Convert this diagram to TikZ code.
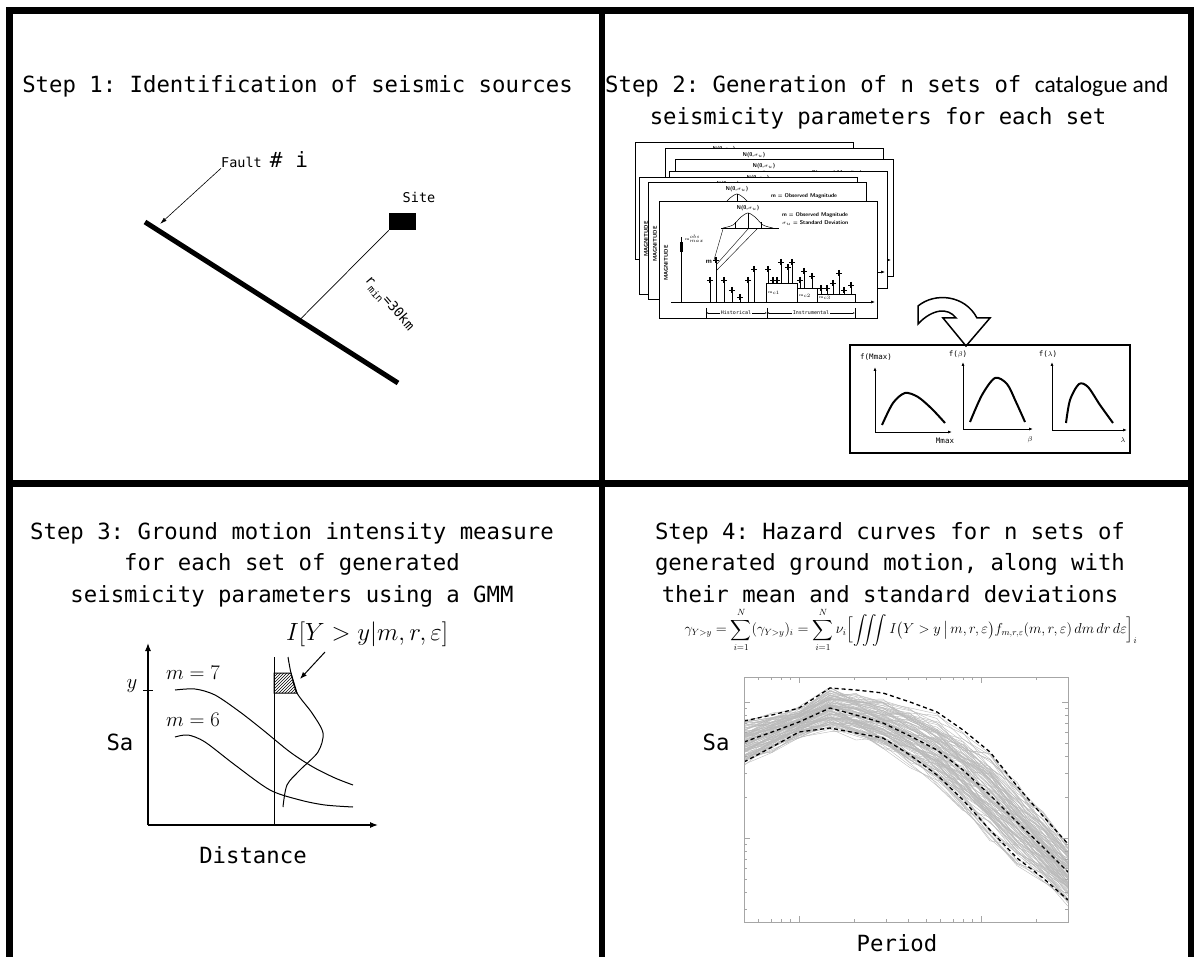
\documentclass[tikz,border=0pt]{standalone}
\usepackage{fontspec}
\setmonofont{DejaVu Sans Mono}
\newfontfamily\calfont{Carlito}
\usepackage{amsmath}
\usetikzlibrary{arrows.meta,calc,patterns}

\tikzset{
  frame/.style={line width=7pt},
  title/.style={font=\fontsize{22.3}{31.5}\selectfont\ttfamily, inner sep=0pt, align=center},
  lbl/.style={font=\fontsize{13.5}{15}\selectfont\ttfamily, inner sep=0pt},
  mathlbl/.style={font=\fontsize{21}{23}\selectfont, inner sep=0pt},
  tiny/.style={font=\fontsize{5.5}{6}\selectfont\sffamily\bfseries, inner sep=0pt},
  mono/.style={font=\fontsize{7.5}{8}\selectfont\ttfamily, inner sep=0pt},
  sheet/.style={draw, fill=white, line width=1pt},
  axis/.style={line width=1.2pt, -{Latex[length=8pt,width=6pt]}},
  mini/.style={line width=0.8pt, -{Latex[length=4pt,width=3pt]}},
  hump/.style={line width=2pt},
  curve/.style={line width=1pt},
  sim/.style={gray!55, line width=0.4pt},
  band/.style={line width=1.3pt, dash pattern=on 4pt off 3pt},
  catalog/.pic={
    \draw[sheet] (0,0) rectangle (218,117);
    \node[tiny] at (89,6) {N(0,$\sigma_u$)};
    \draw[line width=0.5pt] (62,26) -- (120,26);
    \draw[line width=0.5pt] plot[smooth] coordinates {(64,26) (74,23) (82,15) (89,11) (96,15) (104,23) (114,26)};
    \draw[line width=0.6pt] (89,11) -- (89,27) (76,20) -- (76,27) (102,20) -- (102,27);
    \draw[line width=0.4pt] (64,27) -- (55,58) (89,27) -- (57,63) (98,27) -- (58,68);
    \node[tiny, anchor=west] at (123,13) {m = Observed Magnitude};
    \node[tiny, anchor=west] at (123,21) {$\sigma_u$ = Standard Deviation};
    \node[tiny, rotate=90] at (7,61) {MAGNITUDE};
    \draw[-{Latex[length=4pt]}, line width=0.6pt] (12,100) -- (216,100);
    \draw[line width=0.6pt] (107,100) |- (138,81) |- (158,86) |- (196,92) -- (196,100);
    \draw[line width=0.6pt] (138,86) -- (138,100) (158,92) -- (158,100);
    \node[tiny, font=\fontsize{4}{4}\selectfont] at (115,91) {m$_{c1}$};
    \node[tiny, font=\fontsize{4}{4}\selectfont] at (146,94) {m$_{c2}$};
    \node[tiny, font=\fontsize{4}{4}\selectfont] at (166,96) {m$_{c3}$};
    \draw[line width=0.8pt] (22,100) -- (22,35);
    \fill (20.5,40) rectangle (23.5,50);
    \node[tiny, font=\fontsize{4}{4}\selectfont, anchor=west] at (26,37) {m$^{obs}_{max}$};
    \node[tiny, font=\fontsize{7}{7}\selectfont\sffamily\bfseries] at (50,60) {m};
    \foreach \sx/\st/\sb in {51/75/100, 57/55/100, 65/75/100, 73/85/100, 81/92/100, 89/75/100, 95/64/100,
      109/64/81, 114/75/81, 118/75/81, 122/57/81, 129/62/81, 133/57/81, 141/75/86, 145/66/86, 153/71/86,
      162/83/92, 168/83/92, 174/78/92, 180/68/92, 185/85/92, 192/80/92}{
      \draw[line width=0.6pt] (\sx,\st) -- (\sx,\sb);
      \fill (\sx-1.3,\st) rectangle (\sx+1.3,\st+6);
      \draw[line width=0.5pt] (\sx-3,\st+3) -- (\sx+3,\st+3);
    }
    \draw[line width=0.4pt] (47,106) -- (47,116) (108,106) -- (108,116) (196,106) -- (196,116);
    \draw[line width=0.4pt, {Latex[length=2pt]}-{Latex[length=2pt]}] (47,111) -- (108,111);
    \draw[line width=0.4pt, {Latex[length=2pt]}-{Latex[length=2pt]}] (108,111) -- (196,111);
    \node[mono, font=\fontsize{5}{5}\selectfont\ttfamily, fill=white, inner sep=1pt] at (77,111) {Historical};
    \node[mono, font=\fontsize{5}{5}\selectfont\ttfamily, fill=white, inner sep=1pt] at (152,111) {Instrumental};
  }
}

\begin{document}
\begin{tikzpicture}[x=1pt,y=-1pt]
\useasboundingbox (0,0) rectangle (1194,957);

% frame
\draw[frame] (9.5,957) -- (9.5,10.5) -- (1191.5,10.5) -- (1191.5,957);
\draw[line width=6pt] (601.5,10.5) -- (601.5,957);
\draw[frame] (9.5,483.5) -- (1191.5,483.5);

% Step 1
\node[title, anchor=base] (t1) at (297.5,93) {Step 1: Identification of seismic sources};
\coordinate (f1) at (145,222);
\coordinate (f2) at (398,383);
\draw[line width=5pt] (f1) -- (f2);
\node[fill=black, minimum width=27pt, minimum height=17pt, inner sep=0pt] (site) at (402.5,221.5) {};
\node[lbl] (sitelbl) at (419,197) {Site};
\coordinate (foot) at ($(f1)!0.61!(f2)$);
\draw[line width=0.7pt] (site.south west) -- (foot);
\node[lbl, rotate=-49] (rmin) at (389,304) {r\raisebox{-4pt}{\fontsize{10}{10}\selectfont min}=30km};
\node[lbl, anchor=west] (fault) at (221,160) {Fault {\fontsize{21}{21}\selectfont\# i}};
\coordinate (fhit) at (160,224);
\draw[line width=0.6pt, -{Latex[length=7pt,width=4pt]}] (fault.south west) -- (fhit);

% Step 2
\node[title, anchor=base west] (t2) at (605,93) {Step 2: Generation of n sets of {\calfont\fontsize{23.5}{28}\selectfont catalogue and}};
\node[title, anchor=base] (t2b) at (878,125) {seismicity parameters for each set};
\foreach \cx/\cy in {635/143, 665/149, 675/160, 669/172, 639/178, 648/183, 659/202}
  \pic at (\cx,\cy) {catalog};
\draw[line width=1.5pt, fill=white] (918,306) .. controls (935,292) and (965,295) .. (977,318)
  -- (990,318) -- (966,346) -- (943,318) -- (956,318) .. controls (948,307) and (932,309) .. (918,324) -- cycle;
\draw[line width=1.8pt] (850,345) rectangle (1130,453);
\draw[mini] (875,432) -- (875,367);
\draw[mini] (875,432) -- (952,432);
\draw[hump] plot[smooth] coordinates {(882,425) (893,403) (905,393) (918,397) (932,409) (945,423)};
\node[mono] (fm) at (876,357) {f(Mmax)};
\node[mono] (mm) at (945,441) {Mmax};
\draw[mini] (963,429) -- (963,362);
\draw[mini] (963,429) -- (1033,429);
\draw[hump] plot[smooth] coordinates {(970,422) (982,395) (995,378) (1007,384) (1016,402) (1025,422)};
\node[mono] (fb) at (958,354) {f($\beta$)};
\node[mono] (bb) at (1030,440) {$\beta$};
\draw[mini] (1052,430) -- (1052,362);
\draw[mini] (1052,430) -- (1127,430);
\draw[hump] plot[smooth] coordinates {(1066,423) (1070,400) (1079,384) (1088,387) (1100,405) (1113,423)};
\node[mono] (fl) at (1048,354) {f($\lambda$)};
\node[mono] (ll) at (1123,440) {$\lambda$};

% Step 3
\node[title, anchor=north] (t3) at (292,522) {Step 3: Ground motion intensity measure\\for each set of generated\\seismicity parameters using a GMM};
\coordinate (o3) at (148,825);
\draw[axis] (o3) -- (148,643);
\draw[axis] (o3) -- (378,825);
\draw[line width=1pt] (143,690) -- (153,690);
\node[mathlbl] (ylbl) at (132,686) {$y$};
\node[title] (sa3) at (120,742) {Sa};
\node[mathlbl] (m7) at (193,673) {$m=7$};
\node[mathlbl] (m6) at (193,720) {$m=6$};
\draw[curve] plot[smooth] coordinates {(175,690) (195,689) (215,695) (240,712) (263,730) (290,752) (313,767) (335,778) (353,785)};
\draw[curve] plot[smooth] coordinates {(175,737) (188,735) (205,742) (235,765) (270,790) (300,800) (325,805) (353,807)};
\draw[curve] (274,657) -- (274,825);
\draw[curve, pattern=north east lines] (274,673) -- (291,673) -- (297,693) -- (274,693) -- cycle;
\draw[curve] plot[smooth] coordinates {(288,657) (291,673) (297,693) (312,713) (323,733) (318,752) (300,770) (287,785) (283,807)};
\node[font=\fontsize{25}{27}\selectfont, inner sep=0pt, anchor=west] (ilbl) at (286,634) {$I[Y>y|m,r,\varepsilon]$};
\coordinate (istart) at (325,652);
\coordinate (hatch) at (300,679);
\draw[line width=1pt, -{Latex[length=7pt]}] (istart) -- (hatch);
\node[title] (dist) at (253,855) {Distance};

% Step 4
\node[title, anchor=north] (t4) at (890,522) {Step 4: Hazard curves for n sets of\\generated ground motion, along with\\their mean and standard deviations};
\node[inner sep=0pt, font=\fontsize{13.3}{16}\selectfont] (eq) at (911,630)
  {$\displaystyle \gamma_{Y>y}=\sum_{i=1}^{N}(\gamma_{Y>y})_i=\sum_{i=1}^{N}\nu_i\Bigl[\iiint I\bigl(Y>y\,\big|\,m,r,\varepsilon\bigr)f_{m,r,\varepsilon}(m,r,\varepsilon)\,dm\,dr\,d\varepsilon\Bigr]_i$};
\begin{scope}
  \clip (744,677) rectangle (1068,922);
  \pgfmathsetseed{42}
  \foreach \k in {1,...,110}{
    \pgfmathsetmacro\c{0.95*rand}
    \draw[sim] (744,{742+\c*21})
      \foreach \xx/\mm/\ss in {744/742/21, 772/732/17, 799/722/14, 830/708/20, 856/715/21, 883/723/22, 910/736/26,
        937/750/31, 963/770/35, 990/795/39, 1017/822/36, 1043/847/31, 1068/872/28}{ -- (\xx,{\mm+(\c+0.3*rand)*\ss}) };
  }
  \draw[band] plot coordinates {(744,742) (772,732) (799,722) (830,708) (856,715) (883,723) (910,736) (937,750) (963,770) (990,795) (1017,822) (1043,847) (1068,872)};
  \draw[band] plot coordinates {(744,721) (772,715) (799,708) (830,688) (856,690) (883,693) (910,702) (937,712) (963,730) (990,752) (1017,786) (1043,816) (1068,844)};
  \draw[band] plot coordinates {(744,762) (772,747) (799,732) (830,728) (856,733) (883,738) (910,755) (937,775) (963,800) (990,830) (1017,858) (1043,878) (1068,900)};
\end{scope}
\draw[line width=0.8pt, gray!70] (744,677) rectangle (1068,922);
\foreach \dx in {617,799,981}
  \foreach \k in {2,...,9}{
    \pgfmathsetmacro\tx{\dx+182*log10(\k)}
    \ifdim\tx pt>745pt \ifdim\tx pt<1067pt
      \draw[gray!70, line width=0.5pt] (\tx,677) -- (\tx,680) (\tx,922) -- (\tx,919);
    \fi\fi
  }
\foreach \tx in {799,981}
  \draw[gray!70, line width=0.5pt] (\tx,677) -- (\tx,683) (\tx,922) -- (\tx,916);
\foreach \ty in {702,838}
  \draw[gray!70, line width=0.5pt] (744,\ty) -- (750,\ty) (1068,\ty) -- (1062,\ty);
\foreach \dy in {838,974}
  \foreach \k in {2,...,9}{
    \pgfmathsetmacro\ty{\dy-136*log10(\k)}
    \ifdim\ty pt>678pt \ifdim\ty pt<921pt
      \draw[gray!70, line width=0.5pt] (744,\ty) -- (747,\ty) (1068,\ty) -- (1065,\ty);
    \fi\fi
  }
\node[title] (sa4) at (716,742) {Sa};
\node[title] (per) at (897,943) {Period};
\end{tikzpicture}
\end{document}
